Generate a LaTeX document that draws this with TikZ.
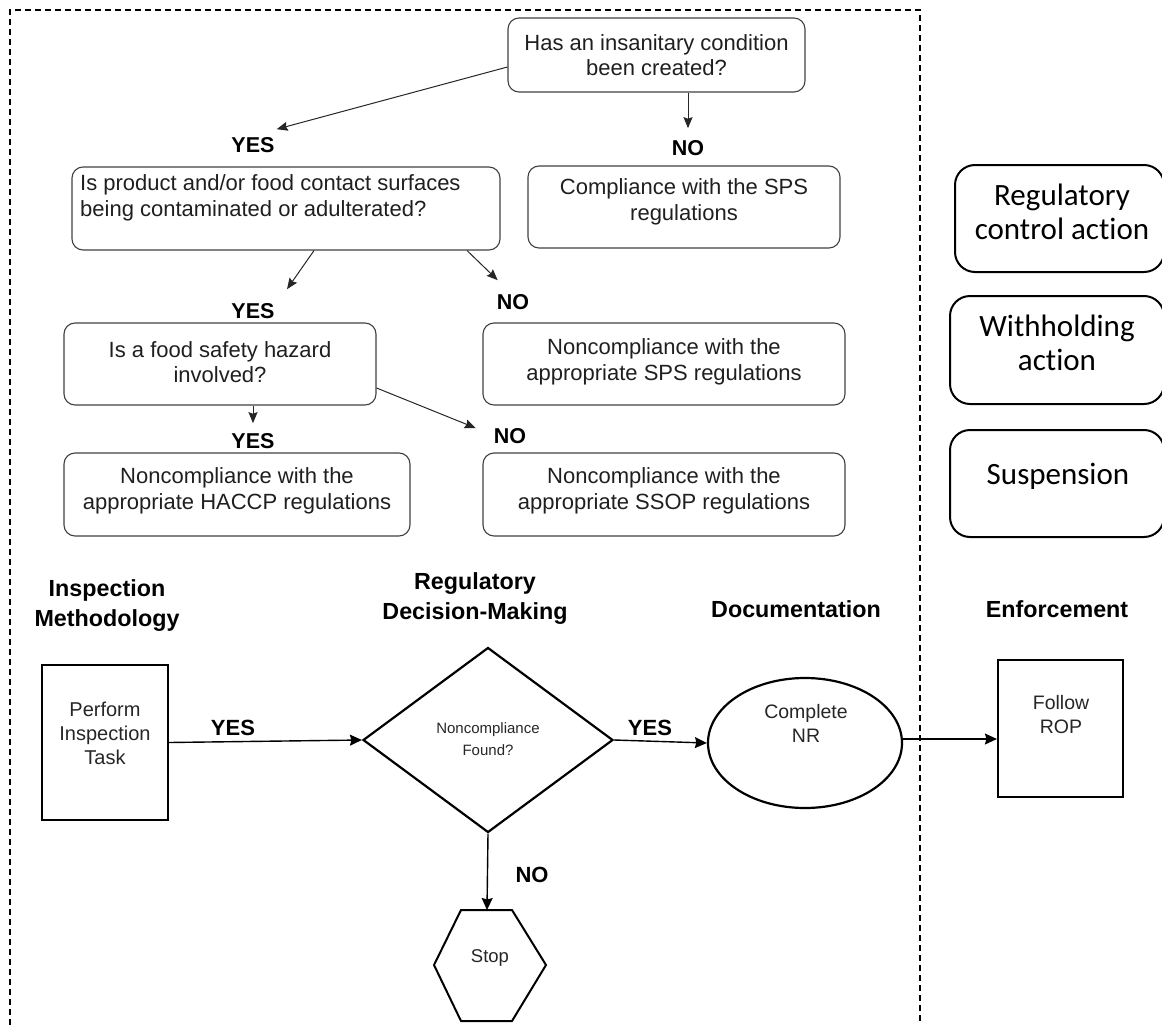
\documentclass[tikz,border=0pt]{standalone}
\usepackage{fontspec}
\setmainfont{Liberation Sans}
\newfontfamily\calib[Ligatures=NoCommon]{Carlito}
\usetikzlibrary{shapes.geometric,arrows.meta}
\begin{document}
\begin{tikzpicture}[x=1pt,y=-1pt,
  qbox/.style={draw=black!75,line width=1.1pt,rounded corners=11pt,inner sep=0pt},
  qtext/.style={align=center,font=\fontsize{22}{25.5}\selectfont,text=black!88,inner sep=0pt},
  lbl/.style={font=\bfseries\fontsize{21.5}{22}\selectfont,inner sep=0pt},
  hdr/.style={align=center,font=\bfseries\fontsize{23.3}{30}\selectfont,inner sep=0pt},
  thin arr/.style={-{Stealth[length=11pt,width=9pt,inset=1.5pt]},line width=1pt,black!85},
  thick arr/.style={-{Stealth[length=12pt,width=11pt,inset=1.5pt]},line width=1.4pt},
  sbox/.style={draw,line width=2.2pt,inner sep=0pt},
  stext/.style={align=center,font=\fontsize{19.5}{24}\selectfont,text=black!85,inner sep=0pt},
  rbox/.style={draw,line width=2pt,rounded corners=20pt,inner sep=0pt},
  rtext/.style={align=center,font=\calib\fontsize{31}{34}\selectfont,inner sep=0pt},
  frame/.style={line width=1.4pt,dash pattern=on 6pt off 4pt}]
\useasboundingbox (0,0) rectangle (1162,1025);
\clip (0,0) rectangle (1162,1025);

% dashed frame
\draw[frame] (10,1025) -- (10,10) -- (920,10) -- (920,1025);

% top decision tree
\node[qbox,minimum width=297pt,minimum height=74pt] (q1) at (656.5,55) {};
\node[qtext] (q1t) at (q1.center) {Has an insanitary condition\\been created?};

\node[qbox,minimum width=428pt,minimum height=83pt] (q2) at (286,208.5) {};
\node[qtext,align=left,anchor=west] (q2t) at (80,198) {Is product and/or food contact surfaces\\being contaminated or adulterated?};

\node[qbox,minimum width=312pt,minimum height=82pt] (c1) at (684,207) {};
\node[qtext] (c1t) at (684,202) {Compliance with the SPS\\regulations};

\node[qbox,minimum width=312pt,minimum height=82pt] (q3) at (220,364) {};
\node[qtext] (q3t) at (220,362) {Is a food safety hazard\\involved?};

\node[qbox,minimum width=362pt,minimum height=82pt] (n1) at (664,364) {};
\node[qtext] (n1t) at (664,362) {Noncompliance with the\\appropriate SPS regulations};

\node[qbox,minimum width=346pt,minimum height=83pt] (n2) at (237,494.5) {};
\node[qtext] (n2t) at (237,491) {Noncompliance with the\\appropriate HACCP regulations};

\node[qbox,minimum width=362pt,minimum height=83pt] (n3) at (664,494.5) {};
\node[qtext] (n3t) at (664,491) {Noncompliance with the\\appropriate SSOP regulations};

\node[lbl] (yes1) at (253,145) {YES};
\node[lbl] (no1) at (688,148) {NO};
\node[lbl] (yes2) at (253,311) {YES};
\node[lbl] (no2) at (513,302) {NO};
\node[lbl] (yes3) at (253,441) {YES};
\node[lbl] (no3) at (510,436) {NO};

\draw[thin arr] ([yshift=-12pt]q1.west) -- ([shift={(2pt,8pt)}]yes1.north east);
\draw[thin arr] (q1.south -| no1) -- ([yshift=12pt]no1.north);
\draw[thin arr] ([xshift=28pt]q2.south) -- ([shift={(34pt,14pt)}]yes2.north);
\draw[thin arr] ([xshift=181pt]q2.south) -- ([shift={(1pt,14pt)}]no2.north west);
\draw[thin arr] (q3.south -| yes3) -- ([yshift=10pt]yes3.north);
\draw[thin arr] ([yshift=-24pt]q3.east) -- ([shift={(-18pt,8pt)}]no3.west);

% right side boxes
\node[rbox,minimum width=209pt,minimum height=107pt] (r1) at (1059.5,218.5) {};
\node[rtext] (r1t) at (1062,212) {Regulatory\\control action};
\node[rbox,minimum width=214pt,minimum height=108pt] (r2) at (1057,350) {};
\node[rtext] (r2t) at (1057,343) {Withholding\\action};
\node[rbox,minimum width=214pt,minimum height=107pt] (r3) at (1057,483.5) {};
\node[rtext] (r3t) at (1058,476) {Suspension};

% bottom headers
\node[hdr] (h1) at (107,606) {Inspection\\Methodology};
\node[hdr] (h2) at (475,599) {Regulatory\\Decision-Making};
\node[hdr] (h3) at (796,609) {Documentation};
\node[hdr] (h4) at (1057,609) {Enforcement};

% bottom flow
\node[sbox,minimum width=126pt,minimum height=155pt] (task) at (105,742.5) {};
\node[stext,font=\fontsize{20}{24}\selectfont] (taskt) at (105,733) {Perform\\Inspection\\Task};

\node[draw,diamond,line width=2.2pt,minimum width=250pt,minimum height=185pt,inner sep=0pt] (dia) at (488,740) {};
\node[stext,font=\fontsize{15}{22}\selectfont] (diat) at (488,739) {Noncompliance\\Found?};

\node[draw,ellipse,line width=2.2pt,minimum width=194pt,minimum height=130pt,inner sep=0pt] (ell) at (805,743) {};
\node[stext] (ellt) at (806,723.5) {Complete\\NR};

\node[sbox,minimum width=125pt,minimum height=137pt] (rop) at (1060.5,728.5) {};
\node[stext] (ropt) at (1061,715) {Follow\\ROP};

\draw[line width=2pt] (461,910) -- (512,910) -- (546,965) -- (512,1021) -- (461,1021) -- (434,965) -- cycle;
\coordinate (stoptop) at (487,910);
\node[stext,font=\fontsize{18.5}{22}\selectfont] (stopt) at (490,958) {Stop};

\node[lbl,font=\bfseries\fontsize{22}{24}\selectfont] (yes4) at (233,728) {YES};
\node[lbl,font=\bfseries\fontsize{22}{24}\selectfont] (yes5) at (650,728) {YES};
\node[lbl,font=\bfseries\fontsize{22}{24}\selectfont] (no4) at (532,875) {NO};

\draw[thick arr] (task.east) -- (dia.west);
\draw[thick arr] (dia.east) -- (ell.west);
\draw[thick arr] ([yshift=4pt]ell.east) -- ([yshift=4pt]ell.east -| rop.west);
\draw[thick arr] (dia.south) -- (stoptop);
\end{tikzpicture}
\end{document}
